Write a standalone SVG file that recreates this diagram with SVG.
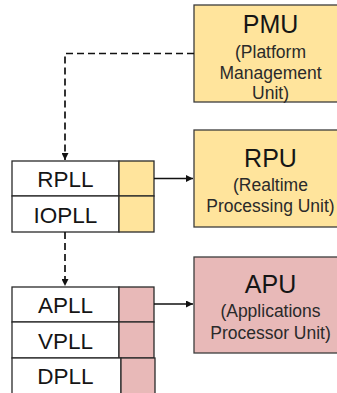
<svg xmlns="http://www.w3.org/2000/svg" width="337" height="393" viewBox="0 0 337 393">
  <defs>
    <marker id="arrow" viewBox="0 0 10 10" refX="10" refY="5" markerWidth="7" markerHeight="7" markerUnits="userSpaceOnUse" orient="auto">
      <path d="M0,0 L10,5 L0,10 Z" fill="#111"/>
    </marker>
    <style>
      .unit-yellow { fill: #FFE49C; stroke: #3c3c3c; stroke-width: 1.3; }
      .unit-pink { fill: #E8B9B8; stroke: #3c3c3c; stroke-width: 1.3; }
      .pll { fill: #ffffff; stroke: #2a2a2a; stroke-width: 1.3; }
      .cell-yellow { fill: #FFE49C; stroke: #2a2a2a; stroke-width: 1.3; }
      .cell-pink { fill: #E8B9B8; stroke: #2a2a2a; stroke-width: 1.3; }
      .title { font-family: "Liberation Sans", Arial, sans-serif; font-size: 25px; fill: #151515; text-anchor: middle; }
      .sub { font-family: "Liberation Sans", Arial, sans-serif; font-size: 17.5px; fill: #2a2a2a; text-anchor: middle; }
      .pll-label { font-family: "Liberation Sans", Arial, sans-serif; font-size: 22.5px; fill: #151515; text-anchor: middle; }
      .dashed { fill: none; stroke: #111; stroke-width: 1.7; stroke-dasharray: 7 4; }
      .solid { fill: none; stroke: #111; stroke-width: 1.6; }
    </style>
  </defs>

  <rect width="337" height="393" fill="#ffffff"/>

  <!-- processing units -->
  <g id="pmu">
    <rect class="unit-yellow" x="194" y="5" width="153" height="97"/>
    <text class="title" x="270.5" y="32.5">PMU</text>
    <text class="sub" x="270.5" y="57.5">(Platform</text>
    <text class="sub" x="270.5" y="78.5">Management</text>
    <text class="sub" x="270.5" y="99">Unit)</text>
  </g>

  <g id="rpu">
    <rect class="unit-yellow" x="194" y="130" width="153" height="97"/>
    <text class="title" x="270.5" y="167">RPU</text>
    <text class="sub" x="270.5" y="190.5">(Realtime</text>
    <text class="sub" x="270.5" y="211.5">Processing Unit)</text>
  </g>

  <g id="apu">
    <rect class="unit-pink" x="194" y="257" width="153" height="96"/>
    <text class="title" x="270.5" y="293">APU</text>
    <text class="sub" x="270.5" y="317">(Applications</text>
    <text class="sub" x="270.5" y="338.5">Processor Unit)</text>
  </g>

  <!-- PLL blocks -->
  <g id="rpll">
    <rect class="pll" x="12" y="161" width="107" height="35"/>
    <rect class="cell-yellow" x="119" y="161" width="35" height="35"/>
    <text class="pll-label" x="65.5" y="187">RPLL</text>
  </g>

  <g id="iopll">
    <rect class="pll" x="12" y="196" width="107" height="36"/>
    <rect class="cell-yellow" x="119" y="196" width="35" height="36"/>
    <text class="pll-label" x="65.5" y="222.5">IOPLL</text>
  </g>

  <g id="apll">
    <rect class="pll" x="12" y="287" width="107" height="35"/>
    <rect class="cell-pink" x="119" y="287" width="35" height="35"/>
    <text class="pll-label" x="65.5" y="313">APLL</text>
  </g>

  <g id="vpll">
    <rect class="pll" x="12" y="322" width="107" height="36"/>
    <rect class="cell-pink" x="119" y="322" width="35" height="36"/>
    <text class="pll-label" x="65.5" y="348.5">VPLL</text>
  </g>

  <g id="dpll">
    <rect class="pll" x="12" y="358" width="109" height="40"/>
    <rect class="cell-pink" x="121" y="358" width="34" height="40"/>
    <text class="pll-label" x="65.5" y="384">DPLL</text>
  </g>

  <!-- connectors -->
  <g id="connectors">
    <path class="dashed" d="M194,53.5 H65 V160" marker-end="url(#arrow)"/>
    <path class="dashed" d="M65,232 V286" marker-end="url(#arrow)"/>
    <path class="solid" d="M154,178.5 H193" marker-end="url(#arrow)"/>
    <path class="solid" d="M154,304 H193" marker-end="url(#arrow)"/>
  </g>
</svg>
